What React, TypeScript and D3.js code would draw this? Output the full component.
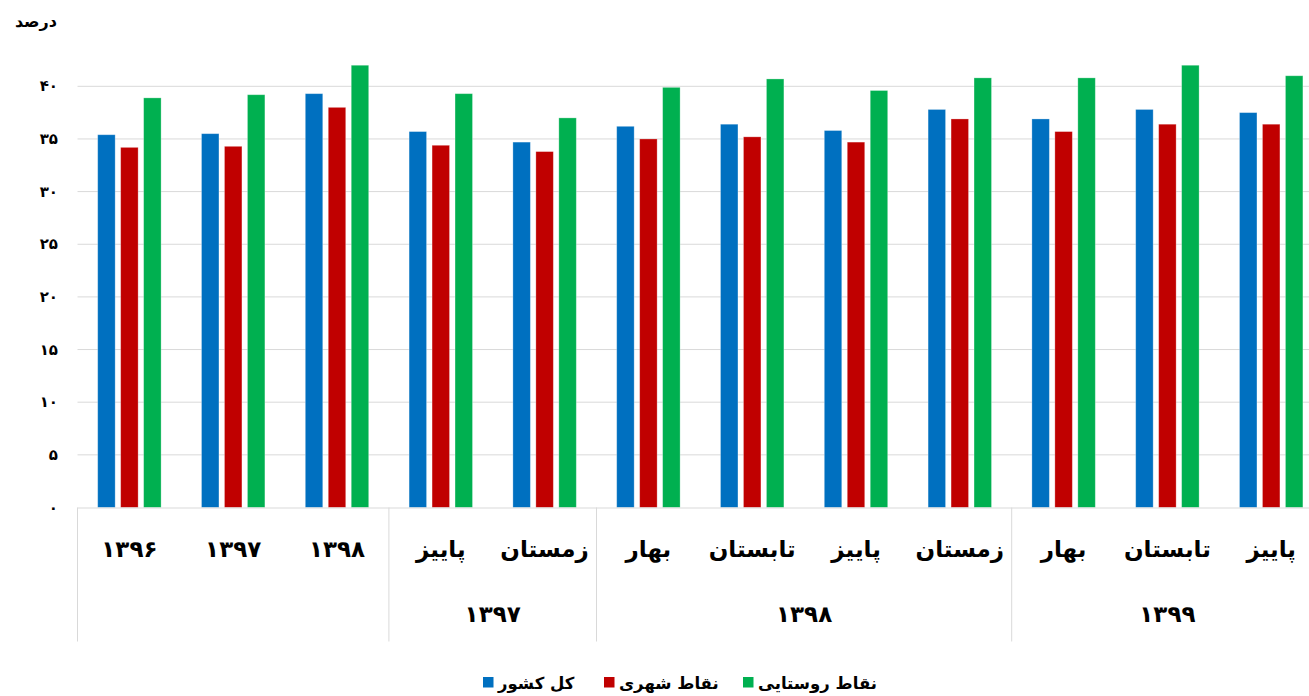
import React from "react";
import * as d3 from "d3";

const categories = ["۱۳۹۶", "۱۳۹۷", "۱۳۹۸", "پاییز", "زمستان", "بهار", "تابستان", "پاییز", "زمستان", "بهار", "تابستان", "پاییز"];
const groups = [
  { label: "", start: 0, end: 3 },
  { label: "۱۳۹۷", start: 3, end: 5 },
  { label: "۱۳۹۸", start: 5, end: 9 },
  { label: "۱۳۹۹", start: 9, end: 12 },
];
const seriesNames = ["کل کشور", "نقاط شهری", "نقاط روستایی"];
const seriesColors = ["#0070C0", "#C00000", "#00B050"];
const totalValues = [35.4, 35.5, 39.3, 35.7, 34.7, 36.2, 36.4, 35.8, 37.8, 36.9, 37.8, 37.5];
const urbanValues = [34.2, 34.3, 38.0, 34.4, 33.8, 35.0, 35.2, 34.7, 36.9, 35.7, 36.4, 36.4];
const ruralValues = [38.9, 39.2, 42.0, 39.3, 37.0, 39.9, 40.7, 39.6, 40.8, 40.8, 42.0, 41.0];
const yTicks = [0, 5, 10, 15, 20, 25, 30, 35, 40];
const yTickLabels = ["۰", "۵", "۱۰", "۱۵", "۲۰", "۲۵", "۳۰", "۳۵", "۴۰"];
const yTitle = "درصد";

const W = 1309;
const H = 696;
const FONT = "'DejaVu Sans', sans-serif";

export default function App() {
  const left = 77.5;
  const step = 103.8;
  const right = left + step * categories.length;
  const y0 = 507.5;
  const y = d3.scaleLinear().domain([0, 40]).range([y0, 86.3]);
  const x0 = d3.scaleBand<number>().domain(d3.range(categories.length)).range([left, right]).padding(0);
  const groupWidth = 63.4;
  const x1 = d3.scaleBand<number>().domain([0, 1, 2]).range([0, groupWidth]).paddingInner(0.24).paddingOuter(0);
  const series = [totalValues, urbanValues, ruralValues];
  const offset = (x0.bandwidth() - groupWidth) / 2;

  const legendItems = [
    { i: 0, sq: 483 },
    { i: 1, sq: 604 },
    { i: 2, sq: 743 },
  ];

  return (
    <svg width={W} height={H} style={{ position: "absolute", left: 0, top: 0, background: "#fff" }} fontFamily={FONT}>
      <rect x={0} y={0} width={W} height={H} fill="#fff" />
      <text x={57} y={27} textAnchor="end" fontSize={16} fontWeight="bold" fill="#000">{yTitle}</text>
      {yTicks.map((t, k) => (
        <g key={t}>
          {t > 0 && <line x1={left} x2={W} y1={y(t)} y2={y(t)} stroke="#d9d9d9" strokeWidth={1} />}
          <text x={58} y={y(t) + 5} textAnchor="end" fontSize={15} fontWeight="bold" fill="#000">{yTickLabels[k]}</text>
        </g>
      ))}
      {series.map((vals, s) =>
        vals.map((v, i) => (
          <rect
            key={`${s}-${i}`}
            x={(x0(i) as number) + offset + (x1(s) as number)}
            y={y(v)}
            width={x1.bandwidth()}
            height={y0 - y(v)}
            fill={seriesColors[s]}
            stroke="#ffffff"
            strokeOpacity={0.35}
            strokeWidth={0.8}
          />
        ))
      )}
      <line x1={left} x2={W} y1={y0 + 0.5} y2={y0 + 0.5} stroke="#d9d9d9" strokeWidth={1} />
      {[0, 3, 5, 9].map((b) => (
        <line key={b} x1={(x0(b) as number)} x2={(x0(b) as number)} y1={y0} y2={641.5} stroke="#d9d9d9" strokeWidth={1} />
      ))}
      {categories.map((c, i) => (
        <text key={i} x={(x0(i) as number) + x0.bandwidth() / 2} y={557} textAnchor="middle" fontSize={23} fontWeight="bold" fill="#000">{c}</text>
      ))}
      {groups.map((g, k) =>
        g.label ? (
          <text key={k} x={((x0(g.start) as number) + left + step * g.end) / 2} y={622} textAnchor="middle" fontSize={23} fontWeight="bold" fill="#000">{g.label}</text>
        ) : null
      )}
      {legendItems.map((l) => (
        <g key={l.i}>
          <rect x={l.sq} y={677} width={10.5} height={10.5} fill={seriesColors[l.i]} />
          <text x={l.sq + 15} y={689} textAnchor="start" fontSize={16.5} fontWeight="bold" fill="#000">{seriesNames[l.i]}</text>
        </g>
      ))}
    </svg>
  );
}
